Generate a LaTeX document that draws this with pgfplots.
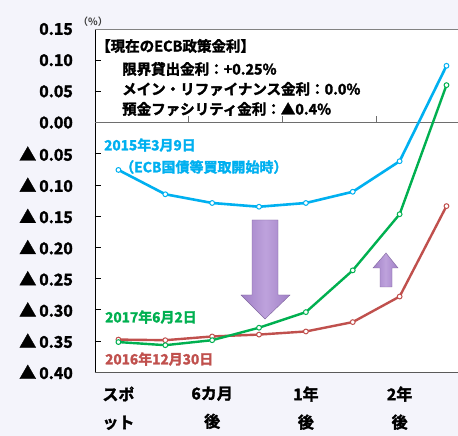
\documentclass[border=0pt]{standalone}
\usepackage{fontspec}
\setmainfont{Noto Sans CJK JP Bold}[BoldFont={Noto Sans CJK JP Bold}, BoldFeatures={FakeBold=2}]
\usepackage{pgfplots}
\pgfplotsset{compat=1.18}
\definecolor{cblue}{RGB}{0,176,240}
\definecolor{cgreen}{RGB}{0,176,80}
\definecolor{cred}{RGB}{192,80,77}
\definecolor{bg}{RGB}{244,244,251}
\definecolor{arr}{RGB}{160,128,198}
\definecolor{arrl}{RGB}{190,162,220}
\newcommand{\tri}{{\fontsize{17}{18}\selectfont ▲}\kern3pt}
\begin{document}
\begin{tikzpicture}
\useasboundingbox (-95pt,-64pt) rectangle (363pt,372pt);
\fill[bg] (-95pt,-64pt) rectangle (363pt,372pt);
\begin{axis}[
  name=ax, at={(0,0)}, anchor=south west,
  scale only axis, width=363.2pt, height=343pt,
  xmin=-0.5, xmax=7.25, ymin=-0.40, ymax=0.15,
  axis x line*=bottom, axis y line*=left,
  axis line style={line width=0.8pt},
  x axis line style={draw={rgb,255:red,90;green,90;blue,90}},
  y axis line style={draw=black},
  axis background/.style={fill=white},
  xtick={0,2,4,6},
  xticklabels={{スポ\\ット},{6カ月\\後},{1年\\後},{2年\\後}},
  xtick style={draw=none},
  xticklabel style={align=center, font=\fontsize{16}{28}\selectfont\bfseries, yshift=-11pt},
  ytick={-0.4,-0.35,-0.3,-0.25,-0.2,-0.15,-0.1,-0.05,0,0.05,0.1,0.15},
  yticklabels={\tri 0.40,\tri 0.35,\tri 0.30,\tri 0.25,\tri 0.20,\tri 0.15,\tri 0.10,\tri 0.05,0.00,0.05,0.10,0.15},
  yticklabel style={font=\fontsize{16}{18}\selectfont\bfseries, anchor=east, inner sep=0pt, xshift=-22pt},
  tick align=inside, major tick length=6pt,
  ytick style={draw=black, line width=0.6pt},
  clip=false,
]
\draw[line width=0.8pt, draw={rgb,255:red,130;green,130;blue,130}] (axis cs:-0.5,0.15) -- (axis cs:7.25,0.15);
\draw[line width=0.8pt, draw={rgb,255:red,110;green,110;blue,110}] (axis cs:-0.5,0) -- (axis cs:7.25,0);
\addplot[cblue, line width=2.6pt, mark=*, mark size=2.4pt, mark options={fill=white, draw=cblue, line width=1pt}]
 coordinates {(0,-0.076) (1,-0.115) (2,-0.129) (3,-0.135) (4,-0.129) (5,-0.111) (6,-0.062) (7,0.091)};
\addplot[cred, line width=2.4pt, mark=*, mark size=2.4pt, mark options={fill=white, draw=cred, line width=1pt}]
 coordinates {(0,-0.348) (1,-0.349) (2,-0.343) (3,-0.340) (4,-0.335) (5,-0.320) (6,-0.279) (7,-0.134)};
\addplot[cgreen, line width=2.4pt, mark=*, mark size=2.4pt, mark options={fill=white, draw=cgreen, line width=1pt}]
 coordinates {(0,-0.352) (1,-0.357) (2,-0.349) (3,-0.329) (4,-0.304) (5,-0.237) (6,-0.147) (7,0.060)};
\end{axis}
% small ticks on the zero line
\foreach \xx in {93.7,187.4,281.2} {
  \draw[line width=0.6pt, draw={rgb,255:red,110;green,110;blue,110}] (\xx pt,249.5pt) -- (\xx pt,256pt);
}
% arrows
\shade[left color=arr, right color=arr, middle color=arrl, draw=arr!80!black, line width=0.4pt]
 (157pt,152pt) -- (183pt,152pt) -- (183pt,77pt) -- (195pt,77pt) -- (170pt,53pt) -- (146pt,77pt) -- (157pt,77pt) -- cycle;
\shade[left color=arr, right color=arr, middle color=arrl, draw=arr!80!black, line width=0.4pt]
 (285pt,85pt) -- (297pt,85pt) -- (297pt,104pt) -- (303pt,104pt) -- (291pt,119pt) -- (278pt,104pt) -- (285pt,104pt) -- cycle;
% texts
\node[font=\fontsize{10}{12}\selectfont, anchor=west, inner sep=0pt, text={rgb,255:red,60;green,60;blue,60}] at (-17pt,350pt) {（\%）};
\begin{scope}[every node/.style={anchor=west, inner sep=0pt, font=\fontsize{14.5}{16}\selectfont\bfseries}]
\node at (1pt,326pt) {【現在のECB政策金利】};
\node at (27pt,303pt) {限界貸出金利：+0.25\%};
\node at (27pt,283pt) {メイン・リファイナンス金利：0.0\%};
\node at (27pt,263pt) {預金ファシリティ金利：▲0.4\%};
\end{scope}
\begin{scope}[every node/.style={anchor=west, inner sep=0pt, font=\fontsize{14}{16}\selectfont\bfseries}]
\node[text=cblue] at (9pt,227pt) {2015年3月9日};
\node[text=cblue] at (25pt,205pt) {（ECB国債等買取開始時）};
\node[text=cgreen] at (10pt,55pt) {2017年6月2日};
\node[text=cred] at (10pt,13pt) {2016年12月30日};
\end{scope}
\end{tikzpicture}
\end{document}
